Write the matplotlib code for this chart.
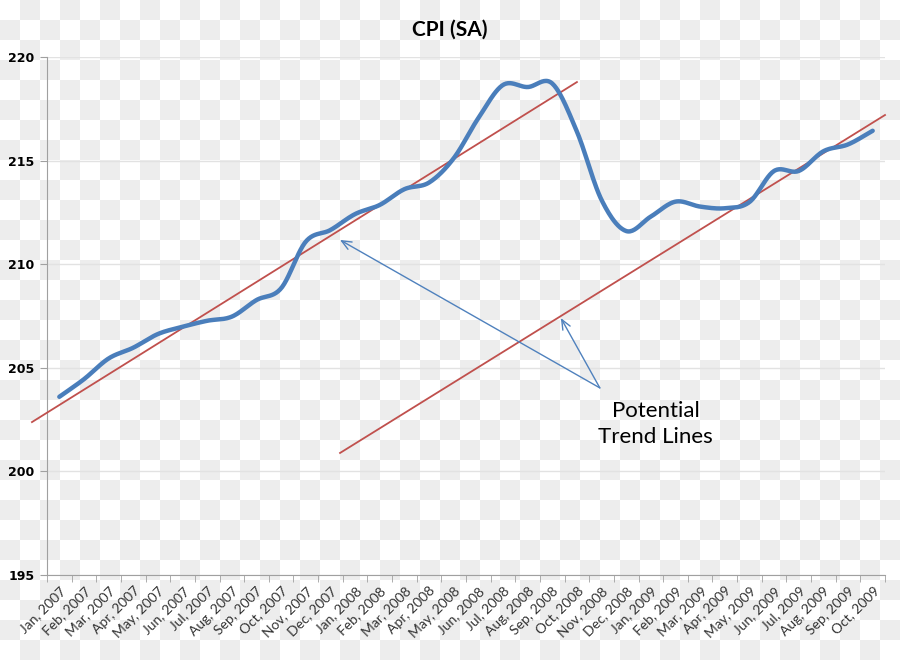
import numpy as np
import matplotlib.pyplot as plt

# monthly CPI (seasonally adjusted)
months = ['Jan', 'Feb', 'Mar', 'Apr', 'May', 'Jun',
          'Jul', 'Aug', 'Sep', 'Oct', 'Nov', 'Dec']
labels = ['%s, %d' % (m, y) for y in (2007, 2008, 2009) for m in months][:34]
cpi = [203.6, 204.45, 205.45, 205.97, 206.63, 206.98, 207.27, 207.47,
       208.27, 208.84, 211.09, 211.65, 212.42, 212.86, 213.62, 213.94,
       215.11, 217.05, 218.65, 218.55, 218.72, 216.4, 213.1, 211.6,
       212.3, 213.02, 212.78, 212.7, 213.0, 214.5, 214.5, 215.45,
       215.78, 216.44]

# the two hand drawn trend lines (start/end in month index, value)
trend_upper = ([-1.11, 21.0], [202.38, 218.79])
trend_lower = ([11.39, 33.5], [200.89, 217.2])

note_text = 'Potential\nTrend Lines'
note_from = (21.93, 204.03)
note_targets = [(11.39, 211.17), (20.35, 207.4)]


def smooth(x, y, n=24):
    """Catmull-Rom curve through the points (like Excel's smoothed line)"""
    x = np.asarray(x, float)
    y = np.asarray(y, float)
    px = np.concatenate([[2*x[0]-x[1]], x, [2*x[-1]-x[-2]]])
    py = np.concatenate([[2*y[0]-y[1]], y, [2*y[-1]-y[-2]]])
    t = np.linspace(0, 1, n, endpoint=False)
    xs, ys = [], []
    for i in range(1, len(px)-2):
        for arr, out in ((px, xs), (py, ys)):
            p0, p1, p2, p3 = arr[i-1], arr[i], arr[i+1], arr[i+2]
            out.extend(0.5*((2*p1) + (-p0+p2)*t + (2*p0-5*p1+4*p2-p3)*t**2
                            + (-p0+3*p1-3*p2+p3)*t**3))
    xs.append(x[-1])
    ys.append(y[-1])
    return np.array(xs), np.array(ys)


fig = plt.figure(figsize=(9, 6.6), dpi=100)
fig.patch.set_facecolor('white')

# transparency checkerboard seen behind the original picture
rows, cols = np.indices((660, 900)) // 20
board = np.where((rows + cols) % 2 == 1, 0.93, 1.0)
fig.figimage(np.dstack([board]*3), xo=0, yo=0, zorder=-10, origin='upper')

ax = fig.add_axes([47/900, 1-575/660, 838/900, 518/660])
ax.set_facecolor('none')
ax.set_zorder(1)

x = np.arange(len(cpi))
sx, sy = smooth(x, cpi)
ax.plot(sx, sy, color='#4a7ebb', lw=3.2, solid_capstyle='round', zorder=4)

for tx, ty in (trend_upper, trend_lower):
    ax.plot(tx, ty, color='#c0504d', lw=1.3, clip_on=False, zorder=3)

for tgt in note_targets:
    ax.annotate('', xy=tgt, xytext=note_from,
                arrowprops=dict(arrowstyle='->,head_length=0.7,head_width=0.3',
                                color='#4f81bd', lw=1.0, shrinkA=0, shrinkB=0))
ax.text(24.2, 202.3, note_text, ha='center', va='center',
        fontsize=16, family='Lato', linespacing=1.35)

ax.set_xlim(-0.5, len(cpi) - 0.5)
ax.set_ylim(195, 220)
ax.set_yticks(np.arange(195, 221, 5))
ax.grid(axis='y', color='#e2e2e2', lw=1)
ax.set_axisbelow(True)

ax.set_xticks(x)
ax.set_xticklabels(labels, rotation=45, ha='right', va='top',
                   rotation_mode='anchor', fontsize=10, family='Lato',
                   color='#333333')
ax.set_xticks(np.arange(-0.5, len(cpi)), minor=True)
ax.tick_params(axis='x', which='major', length=0, pad=7)
ax.tick_params(axis='x', which='minor', length=5, color='#a0a0a0')
ax.tick_params(axis='y', length=5, color='#a0a0a0', pad=4)
for t in ax.get_yticklabels():
    t.set_fontweight('bold')
    t.set_fontsize(9)

for side in ('top', 'right'):
    ax.spines[side].set_visible(False)
for side in ('left', 'bottom'):
    ax.spines[side].set_color('#a0a0a0')

fig.text(0.5, 1-30/660, 'CPI (SA)', ha='center', va='center',
         fontsize=15, fontweight='bold', family='Lato')

fig.savefig('out.png', dpi=100)
